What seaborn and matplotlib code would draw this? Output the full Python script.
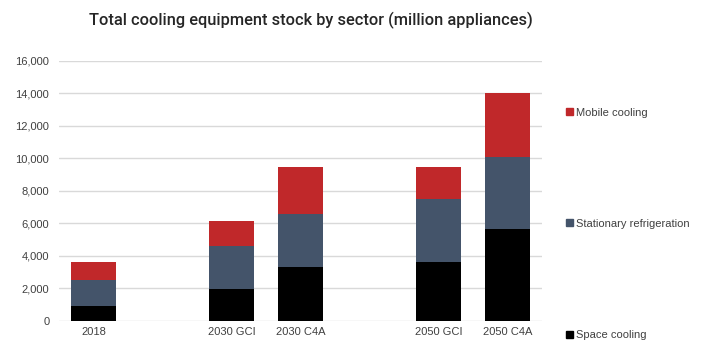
import matplotlib
matplotlib.use("Agg")
import matplotlib.pyplot as plt
import seaborn as sns
import pandas as pd
from matplotlib.patches import Patch

categories = ["2018", "2030 GCI", "2030 C4A", "2050 GCI", "2050 C4A"]
space_cooling = [900, 1950, 3350, 3650, 5650]
stationary_refrigeration = [1650, 2650, 3250, 3850, 4450]
mobile_cooling = [1050, 1550, 2900, 1950, 3950]
yticks = [0, 2000, 4000, 6000, 8000, 10000, 12000, 14000, 16000]

order = ["2018", " ", "2030 GCI", "2030 C4A", "  ", "2050 GCI", "2050 C4A"]

df = pd.DataFrame({
    "cat": categories,
    "space": space_cooling,
    "stat": stationary_refrigeration,
    "mob": mobile_cooling,
})
df["l1"] = df["space"]
df["l2"] = df["space"] + df["stat"]
df["l3"] = df["l2"] + df["mob"]

c_mob = "#C0282A"
c_stat = "#44546A"
c_space = "#000000"
txt = "#404040"

sns.set_theme(style="white")
plt.rcParams["font.family"] = ["Liberation Sans", "DejaVu Sans"]

fig = plt.figure(figsize=(7.03, 3.41), dpi=100)
ax = fig.add_axes([0.084, 0.0587, 0.687, 0.7625])

for col, c in [("l3", c_mob), ("l2", c_stat), ("l1", c_space)]:
    sns.barplot(data=df, x="cat", y=col, order=order, color=c, width=0.66,
                saturation=1, ax=ax, zorder=3, linewidth=0)

ax.set_ylim(0, 16000)
ax.set_xlim(-0.5, 6.5)
ax.set_yticks(yticks)
ax.set_yticklabels([f"{v:,}" for v in yticks])
ax.set_xlabel("")
ax.set_ylabel("")
ax.grid(axis="y", color="#D9D9D9", linewidth=1, zorder=0)
for s in ax.spines.values():
    s.set_visible(False)
ax.tick_params(axis="both", length=0, labelsize=8, colors=txt, pad=4)
ax.tick_params(axis="y", pad=7)

handles = [Patch(color=c_mob, label="Mobile cooling"),
           Patch(color=c_stat, label="Stationary refrigeration"),
           Patch(color=c_space, label="Space cooling")]
leg = fig.legend(handles=handles, loc="upper left", bbox_to_anchor=(0.805, 0.684),
                 frameon=False, fontsize=8, labelspacing=9.1, handlelength=0.6,
                 handleheight=0.6, handletextpad=0.3, borderaxespad=0, borderpad=0)
for t in leg.get_texts():
    t.set_color(txt)

fig.text(0.1266, 0.94, "Total cooling equipment stock by sector (million appliances)",
         fontsize=11.8, color="#262626", fontweight="medium", family=["Roboto", "DejaVu Sans"],
         va="center", ha="left")

fig.savefig("out.png", dpi=100)
